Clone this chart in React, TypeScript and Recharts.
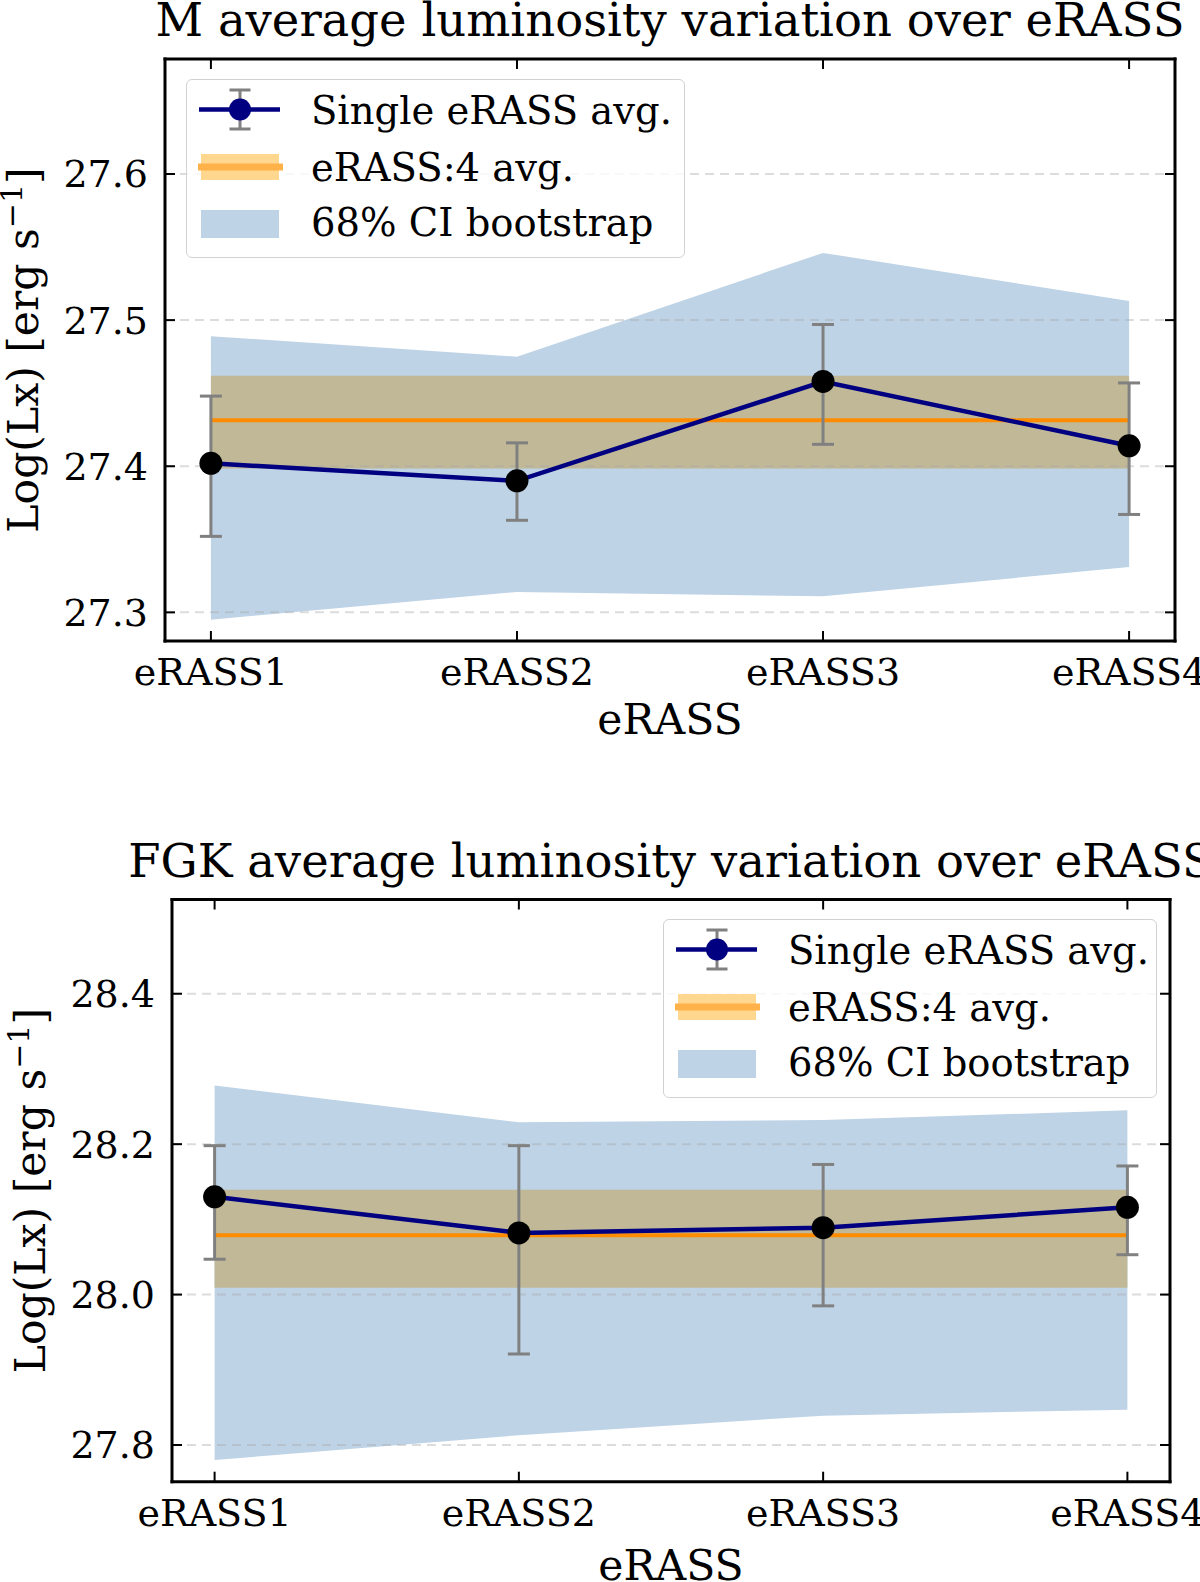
import React from "react";
import { ComposedChart, Area, Line, XAxis, YAxis, ErrorBar, ReferenceLine } from "recharts";

const surveys = ["eRASS1", "eRASS2", "eRASS3", "eRASS4"];

// M dwarfs
const mAvg = [27.402, 27.39, 27.458, 27.414];
const mErrLow = [27.352, 27.363, 27.415, 27.367];
const mErrHigh = [27.448, 27.416, 27.497, 27.457];
const mCiLow = [27.295, 27.314, 27.311, 27.331];
const mCiHigh = [27.489, 27.475, 27.546, 27.513];
const mStacked = [27.3985, 27.4315, 27.462]; // low, mean, high (eRASS:4)
const mTicks = [27.3, 27.4, 27.5, 27.6];

// FGK stars
const fAvg = [28.13, 28.082, 28.089, 28.116];
const fErrLow = [28.047, 27.921, 27.985, 28.053];
const fErrHigh = [28.198, 28.198, 28.173, 28.171];
const fCiLow = [27.78, 27.813, 27.839, 27.847];
const fCiHigh = [28.278, 28.229, 28.232, 28.245];
const fStacked = [28.009, 28.079, 28.1395];
const fTicks = [27.8, 28.0, 28.2, 28.4];

const FONT = "'DejaVu Serif', serif";

function buildRows(avg, lo, hi, ciLo, ciHi, stacked) {
  return surveys.map((name, i) => ({
    i,
    name,
    avg: avg[i],
    err: [avg[i] - lo[i], hi[i] - avg[i]],
    ci: [ciLo[i], ciHi[i]],
    band: [stacked[0], stacked[2]],
    mean: stacked[1],
  }));
}

const noLabel = () => <g />;

function Legend({ left, top, width }) {
  const h = 179;
  return (
    <svg
      width={width}
      height={h}
      style={{
        position: "absolute",
        left,
        top,
        background: "rgba(255,255,255,0.8)",
        border: "1.5px solid #d2d2d2",
        borderRadius: 6,
        boxSizing: "border-box",
      }}
    >
      <line x1={12} x2={93} y1={29.5} y2={29.5} stroke="#000080" strokeWidth={4.5} />
      <line x1={53} x2={53} y1={10} y2={49} stroke="#808080" strokeWidth={3} />
      <line x1={42.5} x2={63.5} y1={10} y2={10} stroke="#808080" strokeWidth={3} />
      <line x1={42.5} x2={63.5} y1={49} y2={49} stroke="#808080" strokeWidth={3} />
      <circle cx={53} cy={29.5} r={11} fill="#000080" />
      <rect x={14} y={74} width={78} height={26} fill="#ffd78f" />
      <line x1={11} x2={96} y1={87} y2={87} stroke="#ffb24a" strokeWidth={7} />
      <rect x={14} y={130} width={78} height={28} fill="#bed3e6" />
      <g fontFamily={FONT} fontSize={38.5} fill="#000">
        <text x={124} y={44}>Single eRASS avg.</text>
        <text x={124} y={101}>eRASS:4 avg.</text>
        <text x={124} y={156}>68% CI bootstrap</text>
      </g>
    </svg>
  );
}

function Panel({ title, rows, top, height, plotTop, plotBottom, plotLeft, plotRight, yDomain, yTicks, xDomain, titleY, yLabelX, xLabelY, legend }) {
  const axisStroke = { stroke: "#000", strokeWidth: 3, strokeLinecap: "square" };
  const tickStroke = { stroke: "#000", strokeWidth: 2 };
  const tickFont = { fill: "#000", fontSize: 38, fontFamily: FONT };
  const midY = (plotTop + plotBottom) / 2;
  const midX = (plotLeft + plotRight) / 2;
  return (
    <div style={{ position: "absolute", left: 0, top, width: 1200, height }}>
      <ComposedChart
        width={1200}
        height={height}
        data={rows}
        margin={{ top: plotTop - 1, right: 1200 - plotRight - 1, bottom: height - plotBottom - 90, left: 0 }}
      >
        <XAxis
          dataKey="i"
          type="number"
          domain={xDomain}
          ticks={[0, 1, 2, 3]}
          interval={0}
          allowDataOverflow
          tickFormatter={(v) => surveys[v]}
          height={90}
          axisLine={axisStroke}
          tickLine={tickStroke}
          tickSize={-10}
          tickMargin={27}
          tick={tickFont}
          label={() => (
            <text x={midX} y={xLabelY} textAnchor="middle" fontSize={42.5} fontFamily={FONT} fill="#000">
              eRASS
            </text>
          )}
        />
        <XAxis
          xAxisId="top"
          orientation="top"
          dataKey="i"
          type="number"
          domain={xDomain}
          ticks={[0, 1, 2, 3]}
          interval={0}
          allowDataOverflow
          height={1}
          axisLine={axisStroke}
          tickLine={tickStroke}
          tickSize={-10}
          tick={noLabel}
          label={() => (
            <text x={midX} y={titleY} textAnchor="middle" fontSize={46.5} fontFamily={FONT} fill="#000">
              {title}
            </text>
          )}
        />
        <YAxis
          type="number"
          domain={yDomain}
          ticks={yTicks}
          interval={0}
          allowDataOverflow
          width={plotLeft}
          axisLine={axisStroke}
          tickLine={tickStroke}
          tickSize={-10}
          tickMargin={27}
          tick={tickFont}
          tickFormatter={(v) => v.toFixed(1)}
          label={() => (
            <text
              x={yLabelX}
              y={midY}
              textAnchor="middle"
              fontSize={42.5}
              fontFamily={FONT}
              fill="#000"
              transform={`rotate(-90, ${yLabelX}, ${midY})`}
            >
              Log(Lx) [erg s
              <tspan fontSize={30} dy={-16}>−1</tspan>
              <tspan dy={16}>]</tspan>
            </text>
          )}
        />
        <YAxis
          yAxisId="right"
          orientation="right"
          type="number"
          domain={yDomain}
          ticks={yTicks}
          interval={0}
          allowDataOverflow
          width={1}
          axisLine={axisStroke}
          tickLine={tickStroke}
          tickSize={-10}
          tick={noLabel}
        />
        <Area dataKey="ci" type="linear" stroke="none" fill="#bed3e6" fillOpacity={1} isAnimationActive={false} />
        <Area dataKey="band" type="linear" stroke="none" fill="#c0b896" fillOpacity={1} isAnimationActive={false} />
        {yTicks.map((t) => (
          <ReferenceLine key={t} y={t} stroke="#a8a8a8" strokeOpacity={0.4} strokeWidth={2} strokeDasharray="9 6" />
        ))}
        <Line dataKey="mean" type="linear" stroke="#ff8c00" strokeWidth={4} dot={false} activeDot={false} isAnimationActive={false} />
        <Line dataKey="avg" type="linear" stroke="#000080" strokeWidth={4.5} dot={false} activeDot={false} isAnimationActive={false}>
          <ErrorBar dataKey="err" direction="y" width={11} stroke="#808080" strokeWidth={3} isAnimationActive={false} />
        </Line>
        <Line
          dataKey="avg"
          type="linear"
          stroke="none"
          dot={{ r: 11.5, fill: "#000", stroke: "#000", strokeWidth: 0 }}
          activeDot={false}
          isAnimationActive={false}
        />
        {/* invisible series so the mirrored top/right axes get drawn */}
        <Line
          xAxisId="top"
          yAxisId="right"
          dataKey="avg"
          type="linear"
          stroke="none"
          dot={false}
          activeDot={false}
          isAnimationActive={false}
        />
      </ComposedChart>
      <Legend {...legend} />
    </div>
  );
}

export default function App() {
  const mRows = buildRows(mAvg, mErrLow, mErrHigh, mCiLow, mCiHigh, mStacked);
  const fRows = buildRows(fAvg, fErrLow, fErrHigh, fCiLow, fCiHigh, fStacked);
  return (
    <div style={{ position: "absolute", left: 0, top: 0, width: 1200, height: 1582, background: "#fff", overflow: "hidden" }}>
      <Panel
        title="M average luminosity variation over eRASS"
        rows={mRows}
        top={0}
        height={790}
        plotTop={59}
        plotBottom={641}
        plotLeft={165}
        plotRight={1175}
        yDomain={[27.2804, 27.6787]}
        yTicks={mTicks}
        xDomain={[-0.15, 3.15]}
        titleY={36}
        yLabelX={38}
        xLabelY={734}
        legend={{ left: 186, top: 79, width: 499 }}
      />
      <Panel
        title="FGK average luminosity variation over eRASS"
        rows={fRows}
        top={790}
        height={792}
        plotTop={109.5}
        plotBottom={691.7}
        plotLeft={172}
        plotRight={1170}
        yDomain={[27.7512, 28.5253]}
        yTicks={fTicks}
        xDomain={[-0.14, 3.14]}
        titleY={86.7}
        yLabelX={45}
        xLabelY={790}
        legend={{ left: 663, top: 129, width: 494 }}
      />
    </div>
  );
}
